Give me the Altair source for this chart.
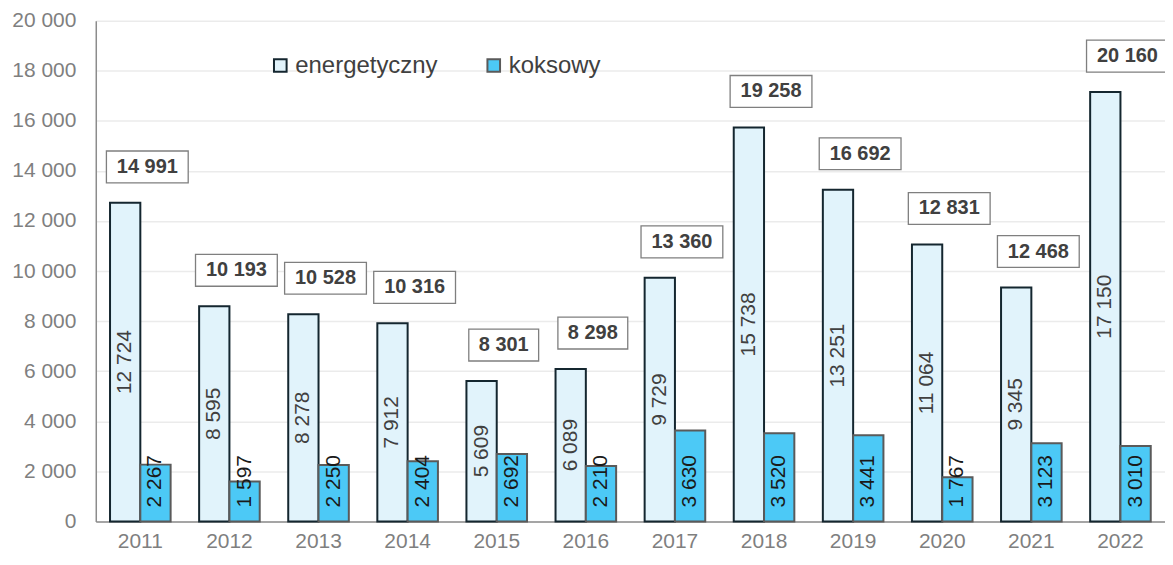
import altair as alt
import pandas as pd

years = [str(y) for y in range(2011, 2023)]
series_names = ["energetyczny", "koksowy"]
energetyczny = [12724, 8595, 8278, 7912, 5609, 6089, 9729, 15738, 13251, 11064, 9345, 17150]
koksowy = [2267, 1597, 2250, 2404, 2692, 2210, 3630, 3520, 3441, 1767, 3123, 3010]
totals = [14991, 10193, 10528, 10316, 8301, 8298, 13360, 19258, 16692, 12831, 12468, 20160]
y_ticks = list(range(0, 20001, 2000))


def fmt(v):
    return f"{v:,}".replace(",", " ")


rows = []
for i, yr in enumerate(years):
    rows.append(dict(rok=yr, seria="energetyczny", wartosc=energetyczny[i], etykieta=fmt(energetyczny[i])))
    rows.append(dict(rok=yr, seria="koksowy", wartosc=koksowy[i], etykieta=fmt(koksowy[i])))
df = pd.DataFrame(rows)

tot = pd.DataFrame(dict(rok=years, wartosc=energetyczny, suma=totals))
tot["etykieta"] = tot["suma"].map(fmt)
tot["dlugi"] = tot["etykieta"].str.len() > 5

FONT = "Liberation Sans"

x_axis = alt.Axis(title=None, labelAngle=0, labelFontSize=21, labelColor="#7f7f7f",
                  domainColor="#8c8c8c", domainWidth=1.5, ticks=False, labelPadding=9,
                  labelFont=FONT, grid=False)
x_scale = alt.Scale(paddingInner=0.32, paddingOuter=0.16)
y_axis = alt.Axis(title=None, values=y_ticks,
                  labelExpr="replace(format(datum.value, ','), regexp(',', 'g'), ' ')",
                  labelFontSize=21, labelColor="#7f7f7f", labelFont=FONT,
                  gridColor="#ebebeb", gridWidth=1.5, domainColor="#8c8c8c", domainWidth=1.5,
                  ticks=False, labelPadding=20)
y_scale = alt.Scale(domain=[0, 20000], nice=False)

x_enc = alt.X("rok:N", sort=years, scale=x_scale, axis=x_axis)
xoff = alt.XOffset("seria:N", sort=series_names, scale=alt.Scale(paddingInner=0, paddingOuter=0))


def yq(field):
    return alt.Y(field, scale=y_scale, axis=y_axis)


legend = alt.Legend(title=None, orient="none", legendX=173, legendY=33, direction="horizontal",
                    labelFontSize=24, labelColor="#404040", labelFont=FONT, symbolType="square",
                    symbolSize=160, symbolStrokeWidth=2, columnPadding=44, labelOffset=3)

bars = alt.Chart(df).mark_bar(strokeWidth=2).encode(
    x=x_enc,
    xOffset=xoff,
    y=yq("wartosc:Q"),
    color=alt.Color("seria:N", sort=series_names,
                    scale=alt.Scale(domain=series_names, range=["#E1F3FB", "#4CC9F6"]),
                    legend=legend),
    stroke=alt.Stroke("seria:N", sort=series_names,
                      scale=alt.Scale(domain=series_names, range=["#14262f", "#5a5a5a"]),
                      legend=legend),
)

lab_e = alt.Chart(df).transform_filter(
    alt.datum.seria == "energetyczny"
).transform_calculate(
    srodek="datum.wartosc / 2"
).mark_text(angle=270, align="center", baseline="middle", fontSize=21, color="#404040", font=FONT).encode(
    x=x_enc, xOffset=xoff,
    y=yq("srodek:Q"),
    text="etykieta:N",
)

lab_k = alt.Chart(df).transform_filter(
    alt.datum.seria == "koksowy"
).transform_calculate(
    zero="0"
).mark_text(angle=270, align="left", baseline="middle", fontSize=21, color="#1a1a1a", font=FONT, dx=14).encode(
    x=x_enc, xOffset=xoff,
    y=yq("zero:Q"),
    text="etykieta:N",
)

path_long = "M-1,-0.39L1,-0.39L1,0.39L-1,0.39Z"
path_short = "M-0.854,-0.39L0.854,-0.39L0.854,0.39L-0.854,0.39Z"

boxes = alt.Chart(tot).mark_point(filled=True, fill="white", stroke="#7f7f7f", strokeWidth=1.3,
                                  opacity=1, size=6724, xOffset=7, yOffset=-36).encode(
    x=x_enc,
    y=yq("wartosc:Q"),
    shape=alt.condition("datum.dlugi", alt.value(path_long), alt.value(path_short)),
)

tot_text = alt.Chart(tot).mark_text(fontSize=20, fontWeight="bold", color="#404040", font=FONT,
                                    baseline="middle", align="center", dx=7, dy=-36).encode(
    x=x_enc,
    y=yq("wartosc:Q"),
    text="etykieta:N",
)

chart = alt.layer(bars, lab_e, lab_k, boxes, tot_text).properties(
    width=1072, height=502,
    autosize=alt.AutoSizeParams(type="none"),
    padding={"left": 88, "top": 12, "right": 0, "bottom": 35},
).configure(font=FONT, background="white").configure_view(stroke=None)

chart.save("out.html", embed_options={"renderer": "svg", "actions": False})
